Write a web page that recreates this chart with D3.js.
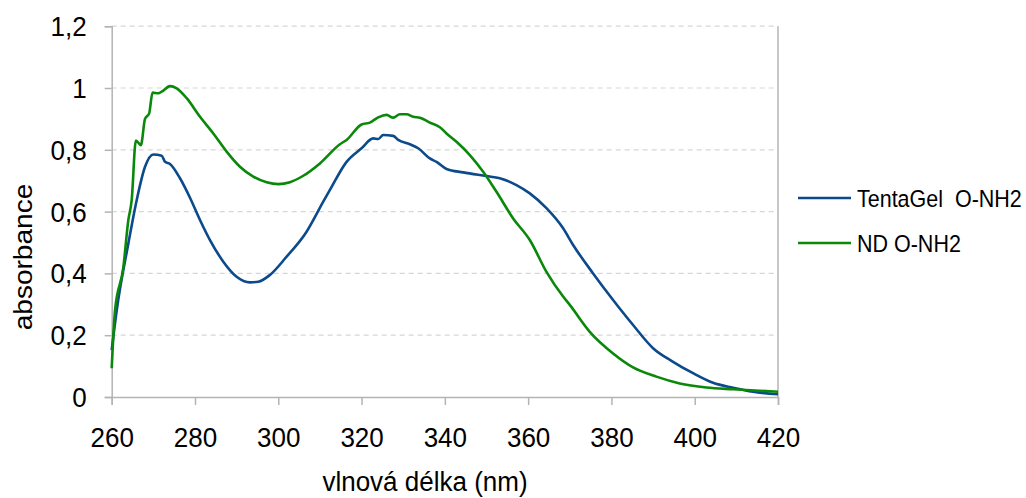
<!DOCTYPE html>
<html>
<head>
<meta charset="utf-8">
<script src="https://cdn.jsdelivr.net/npm/d3@7"></script>
<style>
  html, body { margin: 0; padding: 0; background: #fff; }
  svg { display: block; font-family: "Liberation Sans", Arial, sans-serif; }
</style>
</head>
<body>
<svg id="chart" width="1026" height="498"></svg>
<script>
// Absorption spectra (wavelength in nm, absorbance)
const tentaGelWavelength = [260, 261.2, 264, 266, 268, 270, 272, 272.8, 274, 276.4, 278.8, 281.2, 283.6, 286.8, 290, 293.2, 295.2, 298, 302, 306.8, 310.8, 312.4, 316.4, 320, 322.8, 324, 325.2, 327.6, 328.8, 331.6, 333.6, 336.4, 338, 340.4, 344.4, 350, 353.2, 357.2, 360.4, 364.4, 368.4, 370.8, 375.6, 380.4, 385.2, 390, 394.8, 399.6, 404.4, 409.2, 414, 420];
const tentaGelAbsorbance = [0.152, 0.28, 0.497, 0.637, 0.745, 0.785, 0.781, 0.761, 0.754, 0.708, 0.645, 0.573, 0.508, 0.438, 0.389, 0.371, 0.373, 0.395, 0.454, 0.535, 0.632, 0.670, 0.761, 0.805, 0.837, 0.835, 0.848, 0.845, 0.832, 0.818, 0.805, 0.772, 0.761, 0.738, 0.727, 0.715, 0.708, 0.686, 0.659, 0.611, 0.546, 0.492, 0.400, 0.314, 0.233, 0.158, 0.114, 0.077, 0.046, 0.030, 0.017, 0.009];

const ndWavelength = [260, 260.8, 262.8, 264, 264.8, 265.8, 267, 268, 269, 269.8, 271.2, 272, 274, 275.6, 278, 281.2, 284.4, 287.6, 290.8, 294, 297.2, 300, 302.8, 306, 310, 314.8, 316.4, 320, 322, 324, 326, 327.6, 329.2, 330.8, 332.4, 334, 336.4, 338.8, 340.4, 342.8, 346, 349.2, 352.4, 356.4, 360.4, 364.4, 368.4, 370, 374.8, 380.4, 385.2, 390.8, 396.4, 402.8, 409.2, 420];
const ndAbsorbance = [0.093, 0.28, 0.42, 0.573, 0.637, 0.83, 0.815, 0.90, 0.918, 0.985, 0.983, 0.988, 1.006, 0.999, 0.967, 0.907, 0.853, 0.794, 0.745, 0.713, 0.695, 0.689, 0.695, 0.716, 0.756, 0.818, 0.832, 0.882, 0.888, 0.905, 0.913, 0.904, 0.915, 0.915, 0.907, 0.904, 0.888, 0.873, 0.853, 0.826, 0.783, 0.729, 0.664, 0.578, 0.508, 0.405, 0.325, 0.298, 0.211, 0.141, 0.096, 0.066, 0.044, 0.031, 0.025, 0.017];

const seriesNames = ["TentaGel  O-NH2", "ND O-NH2"];
const seriesColors = ["#0b4a8b", "#0a880a"];
const xTicks = [260, 280, 300, 320, 340, 360, 380, 400, 420];
const yTicks = [0, 0.2, 0.4, 0.6, 0.8, 1, 1.2];
const xTitle = "vlnová délka (nm)";
const yTitle = "absorbance";

const svg = d3.select("#chart");
const plotLeft = 111.7, plotRight = 778, plotTop = 26.2, plotBottom = 397;
const stretch = 1.06;   // glyphs are drawn slightly taller than wide
const fontSize = 26;

const x = d3.scaleLinear().domain([260, 420]).range([plotLeft, plotRight]);
const y = d3.scaleLinear().domain([0, 1.2]).range([plotBottom, plotTop]);

// Horizontal dashed gridlines
svg.append("g").selectAll("line")
  .data(yTicks.filter(d => d > 0))
  .join("line")
  .attr("x1", plotLeft).attr("x2", plotRight)
  .attr("y1", d => y(d)).attr("y2", d => y(d))
  .attr("stroke", "#d6d6d6").attr("stroke-width", 1.2)
  .attr("stroke-dasharray", "5,4");

// Right border of the plot area
svg.append("line")
  .attr("x1", plotRight).attr("x2", plotRight).attr("y1", plotTop).attr("y2", plotBottom)
  .attr("stroke", "#b4b4b4").attr("stroke-width", 1.5);

const fmt = d => String(d).replace(".", ",");

// Axes
const xAxis = svg.append("g").attr("transform", `translate(0,${plotBottom})`)
  .call(d3.axisBottom(x).tickValues(xTicks).tickSize(8).tickPadding(0).tickFormat(d => d));
const yAxis = svg.append("g").attr("transform", `translate(${plotLeft},0)`)
  .call(d3.axisLeft(y).tickValues(yTicks).tickSize(7).tickPadding(0).tickFormat(fmt));

[xAxis, yAxis].forEach(g => {
  g.select(".domain").attr("stroke", "#b4b4b4").attr("stroke-width", 1.5);
  g.selectAll(".tick line").attr("stroke", "#b4b4b4").attr("stroke-width", 1.5);
  g.selectAll(".tick text")
    .attr("fill", "#000").attr("font-size", fontSize)
    .attr("font-family", "'Liberation Sans', Arial, sans-serif");
});
xAxis.selectAll(".tick text")
  .attr("y", 0).attr("dy", null)
  .attr("transform", `translate(0,50) scale(1,${stretch})`);
yAxis.selectAll(".tick text")
  .attr("x", 0).attr("dy", null).attr("text-anchor", "end")
  .attr("transform", `translate(-25,9.5) scale(1,${stretch})`);

// Spectra
const line = d3.line().x(d => x(d[0])).y(d => y(d[1])).curve(d3.curveMonotoneX);
const series = [
  d3.zip(tentaGelWavelength, tentaGelAbsorbance),
  d3.zip(ndWavelength, ndAbsorbance)
];
svg.append("g").selectAll("path")
  .data(series)
  .join("path")
  .attr("d", line)
  .attr("fill", "none")
  .attr("stroke", (d, i) => seriesColors[i])
  .attr("stroke-width", 2.6)
  .attr("stroke-linejoin", "round");

// Axis titles
svg.append("text")
  .attr("transform", `translate(425,491) scale(1,${stretch})`)
  .attr("text-anchor", "middle").attr("font-size", fontSize)
  .text(xTitle);
svg.append("text")
  .attr("transform", `translate(32,257) rotate(-90) scale(1.08,1)`)
  .attr("text-anchor", "middle").attr("font-size", fontSize)
  .text(yTitle);

// Legend
const legend = svg.append("g").selectAll("g")
  .data(seriesNames)
  .join("g")
  .attr("transform", (d, i) => `translate(798,${198 + i * 45})`);
legend.append("line")
  .attr("x1", 0).attr("x2", 53)
  .attr("stroke", (d, i) => seriesColors[i]).attr("stroke-width", 2.6);
legend.append("text")
  .attr("transform", `translate(59,8.5) scale(1,1.08)`)
  .attr("font-size", 21.5)
  .attr("xml:space", "preserve")
  .style("white-space", "pre")
  .text(d => d);
</script>
</body>
</html>
